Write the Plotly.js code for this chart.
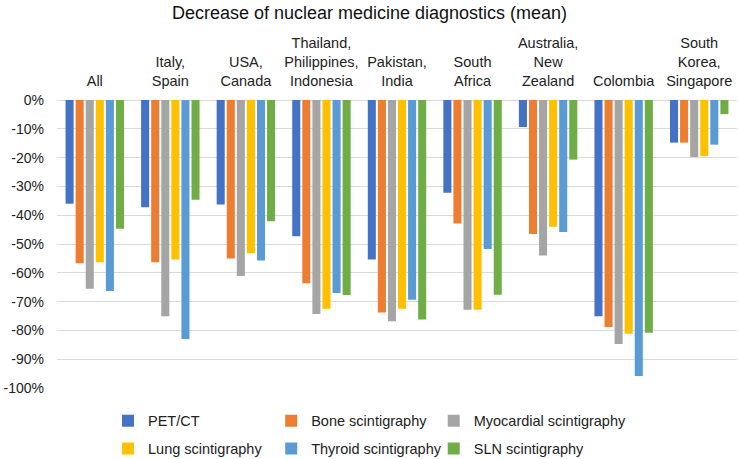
<!DOCTYPE html>
<html>
<head>
<meta charset="utf-8">
<script src="https://cdn.plot.ly/plotly-3.0.1.min.js"></script>
<style>html,body{margin:0;padding:0;background:#fff}#chart{width:739px;height:459px}</style>
</head>
<body>
<div id="chart"></div>
<script>
const categories = ["All", "Italy,<br>Spain", "USA,<br>Canada", "Thailand,<br>Philippines,<br>Indonesia", "Pakistan,<br>India", "South<br>Africa", "Australia,<br>New<br>Zealand", "Colombia", "South<br>Korea,<br>Singapore"];
const petCT      = [-36.0, -37.2, -36.3, -47.3, -55.4, -32.2, -9.4, -75.1, -14.8];
const bone       = [-56.7, -56.3, -55.0, -63.6, -73.8, -42.9, -46.5, -78.8, -14.8];
const myocardial = [-65.5, -75.1, -61.1, -74.3, -76.8, -72.8, -54.0, -84.7, -19.8];
const lung       = [-56.3, -55.4, -53.2, -72.5, -72.5, -72.8, -44.0, -81.2, -19.5];
const thyroid    = [-66.3, -83.0, -55.7, -67.0, -69.4, -51.7, -45.8, -95.8, -15.5];
const sln        = [-44.7, -34.6, -42.1, -67.7, -76.2, -67.6, -20.7, -80.8, -4.9];
const seriesNames = ["PET/CT", "Bone scintigraphy", "Myocardial scintigraphy", "Lung scintigraphy", "Thyroid scintigraphy", "SLN scintigraphy"];
const seriesColors = ["#4472C4", "#ED7D31", "#A5A5A5", "#FFC000", "#5B9BD5", "#70AD47"];
const yTickVals = [0, -10, -20, -30, -40, -50, -60, -70, -80, -90, -100];
const yTickText = ["0%", "-10%", "-20%", "-30%", "-40%", "-50%", "-60%", "-70%", "-80%", "-90%", "-100%"];

const allSeries = [petCT, bone, myocardial, lung, thyroid, sln];
const legendIds = ['legend', 'legend2', 'legend3'];
const traces = allSeries.map((vals, i) => ({
  type: 'bar',
  name: seriesNames[i],
  x: categories,
  y: vals,
  marker: {color: seriesColors[i]},
  legend: legendIds[i % 3],
  legendgroup: 'g' + i,
  hoverinfo: 'skip'
}));

const legendCommon = {orientation: 'v', xanchor: 'left', y: -0.058, yanchor: 'top', font: {size: 14.5, color: '#222'}, itemwidth: 30, traceorder: 'grouped', tracegroupgap: 6, bgcolor: 'rgba(0,0,0,0)'};

const layout = {
  width: 739, height: 459,
  margin: {l: 57, r: 2, t: 100, b: 71, autoexpand: false},
  paper_bgcolor: '#fff', plot_bgcolor: '#fff',
  font: {family: 'Liberation Sans, Arial, sans-serif', size: 14, color: '#222'},
  title: {text: 'Decrease of nuclear medicine diagnostics (mean)', font: {size: 18, color: '#111'}, x: 0.5, xanchor: 'center', y: 0.972, yanchor: 'middle'},
  barmode: 'group',
  bargap: 0.2,
  bargroupgap: 0.2,
  xaxis: {side: 'top', showgrid: false, showline: false, ticks: '', ticklabelstandoff: 10, tickfont: {size: 14.5, color: '#222'}, tickangle: 0, fixedrange: true},
  yaxis: {range: [-100, 0], tickvals: yTickVals, ticktext: yTickText, showgrid: true, gridcolor: '#d9d9d9', gridwidth: 1, zeroline: true, zerolinecolor: '#d9d9d9', zerolinewidth: 1, showline: false, ticks: '', ticklabelstandoff: 12, tickfont: {size: 14, color: '#222'}, fixedrange: true},
  legend: Object.assign({}, legendCommon, {x: 0.075}),
  legend2: Object.assign({}, legendCommon, {x: 0.315}),
  legend3: Object.assign({}, legendCommon, {x: 0.554}),
  showlegend: true
};

Plotly.newPlot('chart', traces, layout, {displayModeBar: false, staticPlot: true});
</script>
</body>
</html>
